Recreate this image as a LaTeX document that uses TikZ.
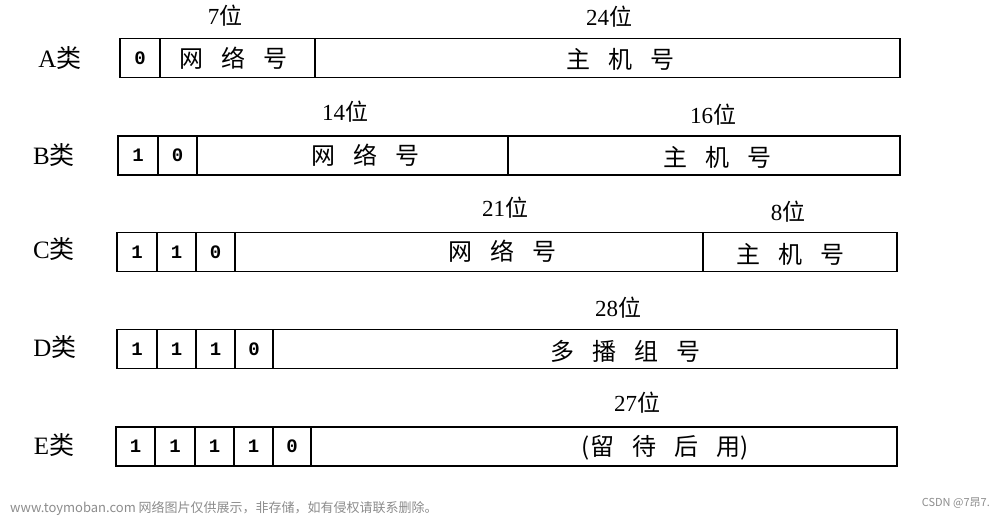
\documentclass[tikz,border=0pt]{standalone}
\usepackage{fontspec}
\setmainfont{Liberation Serif}
\newfontfamily\cjk{Noto Sans CJK SC}
\newfontfamily\bitfont{Liberation Mono}
\newcommand\gapx{\hspace{0.75em}}
\tikzset{
  cell/.style={draw, line width=1.5pt, inner sep=0pt, minimum height=39pt,
    font=\bitfont\bfseries\fontsize{19}{19}\selectfont},
  field/.style={inner sep=0pt, font=\cjk\fontsize{24}{24}\selectfont},
  bitlen/.style={inner sep=0pt, font=\fontsize{23}{23}\selectfont},
  cls/.style={inner sep=0pt, font=\fontsize{25}{25}\selectfont},
  wm/.style={inner sep=0pt, text=black!45, font=\cjk\fontsize{13}{13}\selectfont}
}
\begin{document}
\begin{tikzpicture}[x=1pt,y=-1pt]
\useasboundingbox (0,0) rectangle (1000,517);
% ---- A
\node[cls] (la) at (60,58) {A{\cjk 类}};
\node[cell,minimum width=40pt] (a1) at (140,58) {0};
\node[cell,minimum width=155pt] (a2) at (237.5,58) {};
\node[cell,minimum width=585pt] (a3) at (607.5,58) {};
\node[field] (a2t) at (233,58) {网\gapx 络\gapx 号};
\node[field] (a3t) at (620,59) {主\gapx 机\gapx 号};
\node[bitlen] (a2w) at (225,16) {7{\cjk 位}};
\node[bitlen] (a3w) at (609,17) {24{\cjk 位}};
% ---- B
\node[cls] (lb) at (54,155) {B{\cjk 类}};
\node[cell,minimum width=40pt] (b1) at (138,155.5) {1};
\node[cell,minimum width=39pt] (b2) at (177.5,155.5) {0};
\node[cell,minimum width=311pt] (b3) at (352.5,155.5) {};
\node[cell,minimum width=392pt] (b4) at (704,155.5) {};
\node[field] (b3t) at (365,155.5) {网\gapx 络\gapx 号};
\node[field] (b4t) at (717,157) {主\gapx 机\gapx 号};
\node[bitlen] (b3w) at (345,112) {14{\cjk 位}};
\node[bitlen] (b4w) at (713,115) {16{\cjk 位}};
% ---- C
\node[cls] (lc) at (54,249) {C{\cjk 类}};
\node[cell,minimum width=40pt] (c1) at (137,252) {1};
\node[cell,minimum width=39pt] (c2) at (176.5,252) {1};
\node[cell,minimum width=39pt] (c3) at (215.5,252) {0};
\node[cell,minimum width=468pt] (c4) at (469,252) {};
\node[cell,minimum width=194pt] (c5) at (800,252) {};
\node[field] (c4t) at (502,251) {网\gapx 络\gapx 号};
\node[field] (c5t) at (790,254) {主\gapx 机\gapx 号};
\node[bitlen] (c4w) at (505,208) {21{\cjk 位}};
\node[bitlen] (c5w) at (788,212) {8{\cjk 位}};
% ---- D
\node[cls] (ld) at (55,347) {D{\cjk 类}};
\node[cell,minimum width=40pt] (d1) at (137,349) {1};
\node[cell,minimum width=39pt] (d2) at (176.5,349) {1};
\node[cell,minimum width=39pt] (d3) at (215.5,349) {1};
\node[cell,minimum width=38pt] (d4) at (254,349) {0};
\node[cell,minimum width=624pt] (d5) at (585,349) {};
\node[field] (d5t) at (625,351) {多\gapx 播\gapx 组\gapx 号};
\node[bitlen] (d5w) at (618,308) {28{\cjk 位}};
% ---- E
\node[cls] (le) at (54,445) {E{\cjk 类}};
\node[cell,minimum width=39pt] (e1) at (135.5,446.5) {1};
\node[cell,minimum width=40pt] (e2) at (175,446.5) {1};
\node[cell,minimum width=39pt] (e3) at (214.5,446.5) {1};
\node[cell,minimum width=39pt] (e4) at (253.5,446.5) {1};
\node[cell,minimum width=38pt] (e5) at (292,446.5) {0};
\node[cell,minimum width=586pt] (e6) at (604,446.5) {};
\node[field] (e6t) at (665,448) {(留\gapx 待\gapx 后\gapx 用)};
\node[bitlen] (e6w) at (637,403) {27{\cjk 位}};
% ---- watermarks
\node[wm,anchor=west] (wm1) at (10,508) {www.toymoban.com 网络图片仅供展示，非存储，如有侵权请联系删除。};
\node[wm,anchor=east,font=\cjk\fontsize{11}{11}\selectfont] (wm2) at (990,503) {CSDN @7昂7.};
\end{tikzpicture}
\end{document}
